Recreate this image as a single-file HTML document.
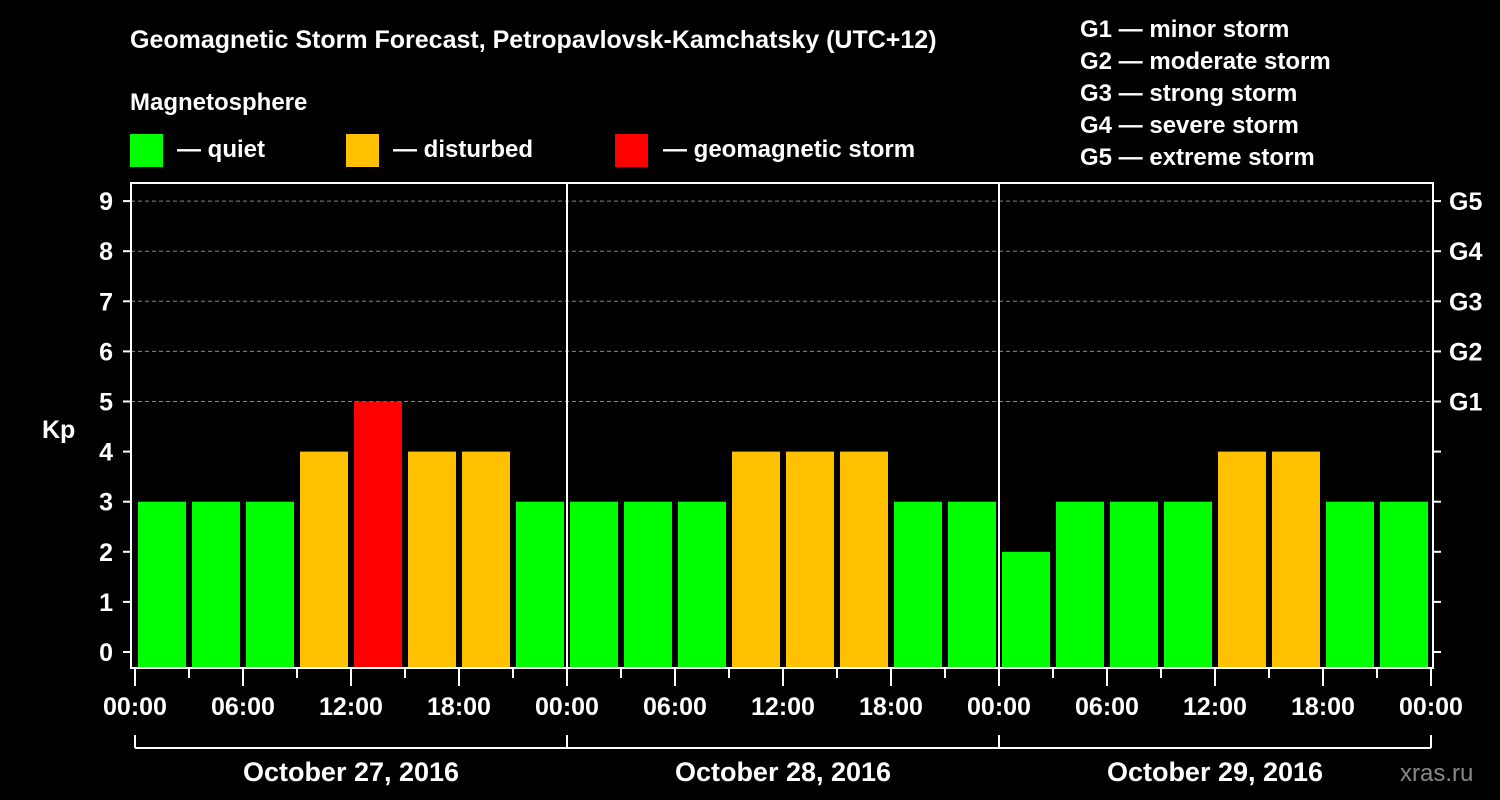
<!DOCTYPE html>
<html><head><meta charset="utf-8"><style>
body{margin:0;background:#000;}
svg{display:block;font-family:"Liberation Sans",Arial,sans-serif;font-weight:bold;}
</style></head><body>
<svg id="chart" width="1500" height="800" viewBox="0 0 1500 800">
<rect width="1500" height="800" fill="#000"/>
<text x="130" y="48" fill="#fff" font-size="25">Geomagnetic Storm Forecast, Petropavlovsk-Kamchatsky (UTC+12)</text>
<text x="130" y="110" fill="#fff" font-size="24">Magnetosphere</text>
<g><rect x="130" y="134" width="33" height="33" fill="#00ff00"/><text x="177" y="157" fill="#fff" font-size="24">— quiet</text></g>
<g><rect x="346" y="134" width="33" height="33" fill="#ffc000"/><text x="393" y="157" fill="#fff" font-size="24">— disturbed</text></g>
<g><rect x="615" y="134" width="33" height="33" fill="#ff0000"/><text x="663" y="157" fill="#fff" font-size="24">— geomagnetic storm</text></g>
<g fill="#fff" font-size="24">
<text x="1080" y="37">G1 — minor storm</text>
<text x="1080" y="69">G2 — moderate storm</text>
<text x="1080" y="101">G3 — strong storm</text>
<text x="1080" y="133">G4 — severe storm</text>
<text x="1080" y="165">G5 — extreme storm</text>
</g>
<g id="grid"></g>
<g id="bars"></g>
<g id="axes"></g>
<text x="42" y="438" fill="#fff" font-size="25">Kp</text>
<text x="1400" y="781" fill="#888" font-size="24" font-weight="normal">xras.ru</text>
</svg>
<script>
const days = ["October 27, 2016","October 28, 2016","October 29, 2016"];
const kpValues = [3,3,3,4,5,4,4,3, 3,3,3,4,4,4,3,3, 2,3,3,3,4,4,3,3];
const yTicks = [0,1,2,3,4,5,6,7,8,9];
const gLabels = ["G1","G2","G3","G4","G5"];
const xTickLabels = ["00:00","06:00","12:00","18:00"];

const NS="http://www.w3.org/2000/svg";
const L=131,R=1433,T=183,B=668;
const x0=135,dayW=432;
const y=v=>652-v*50.1;
const xh=h=>x0+h/24*dayW;
function mk(tag,attrs,parent,text){const e=document.createElementNS(NS,tag);for(const k in attrs)e.setAttribute(k,attrs[k]);if(text!==undefined)e.textContent=text;parent.appendChild(e);return e;}
const grid=document.getElementById('grid'),bars=document.getElementById('bars'),axes=document.getElementById('axes');
// grid lines
for(let v=5;v<=9;v++){const ln=mk('line',{x1:L,x2:R,y1:y(v),y2:y(v),stroke:'#888','stroke-dasharray':'4,3','stroke-width':1},grid);

}
// bars
kpValues.forEach((v,i)=>{
  const c=v>=5?'#ff0000':(v>=4?'#ffc000':'#00ff00');
  const xc=xh(i*3+1.5);
  const r=mk('rect',{x:xc-24,y:y(v),width:48,height:B-y(v),fill:c},bars);
  
  
});
// frame
const fr=mk('rect',{x:L,y:T,width:R-L,height:B-T,fill:'none',stroke:'#fff','stroke-width':2},axes);


// day separators
for(let d=1;d<days.length;d++){const s=mk('line',{x1:x0+d*dayW,x2:x0+d*dayW,y1:T,y2:B,stroke:'#fff','stroke-width':2},axes);

}
// y ticks
yTicks.forEach(v=>{
  mk('line',{x1:L-8,x2:L,y1:y(v),y2:y(v),stroke:'#fff','stroke-width':2},axes);
  mk('line',{x1:R,x2:R+8,y1:y(v),y2:y(v),stroke:'#fff','stroke-width':2},axes);
  const t=mk('text',{x:113,y:y(v)+9,fill:'#fff','font-size':25,'text-anchor':'end'},axes,String(v));
  
  
});
gLabels.forEach((g,i)=>{
  const t=mk('text',{x:1449,y:y(5+i)+9,fill:'#fff','font-size':25},axes,g);
  
  
});
// x ticks
for(let h=0;h<=72;h+=3){
  const major=h%6===0;
  mk('line',{x1:xh(h),x2:xh(h),y1:B,y2:B+(major?18:10),stroke:'#fff','stroke-width':2},axes);
  if(major && (h%24===0 || true)){
    const lbl = xTickLabels[(h%24)/6];
    if(lbl){const t=mk('text',{x:xh(h),y:715,fill:'#fff','font-size':25,'text-anchor':'middle'},axes,lbl);
    
    }
  }
}
// date brackets
mk('line',{x1:x0,x2:x0+days.length*dayW,y1:748,y2:748,stroke:'#fff','stroke-width':2},axes);
for(let d=0;d<=days.length;d++) mk('line',{x1:x0+d*dayW,x2:x0+d*dayW,y1:735,y2:748,stroke:'#fff','stroke-width':2},axes);
days.forEach((dname,d)=>{
  const t=mk('text',{x:x0+d*dayW+dayW/2,y:781,fill:'#fff','font-size':27,'text-anchor':'middle'},axes,dname);
  
  
});
</script>
</body></html>
